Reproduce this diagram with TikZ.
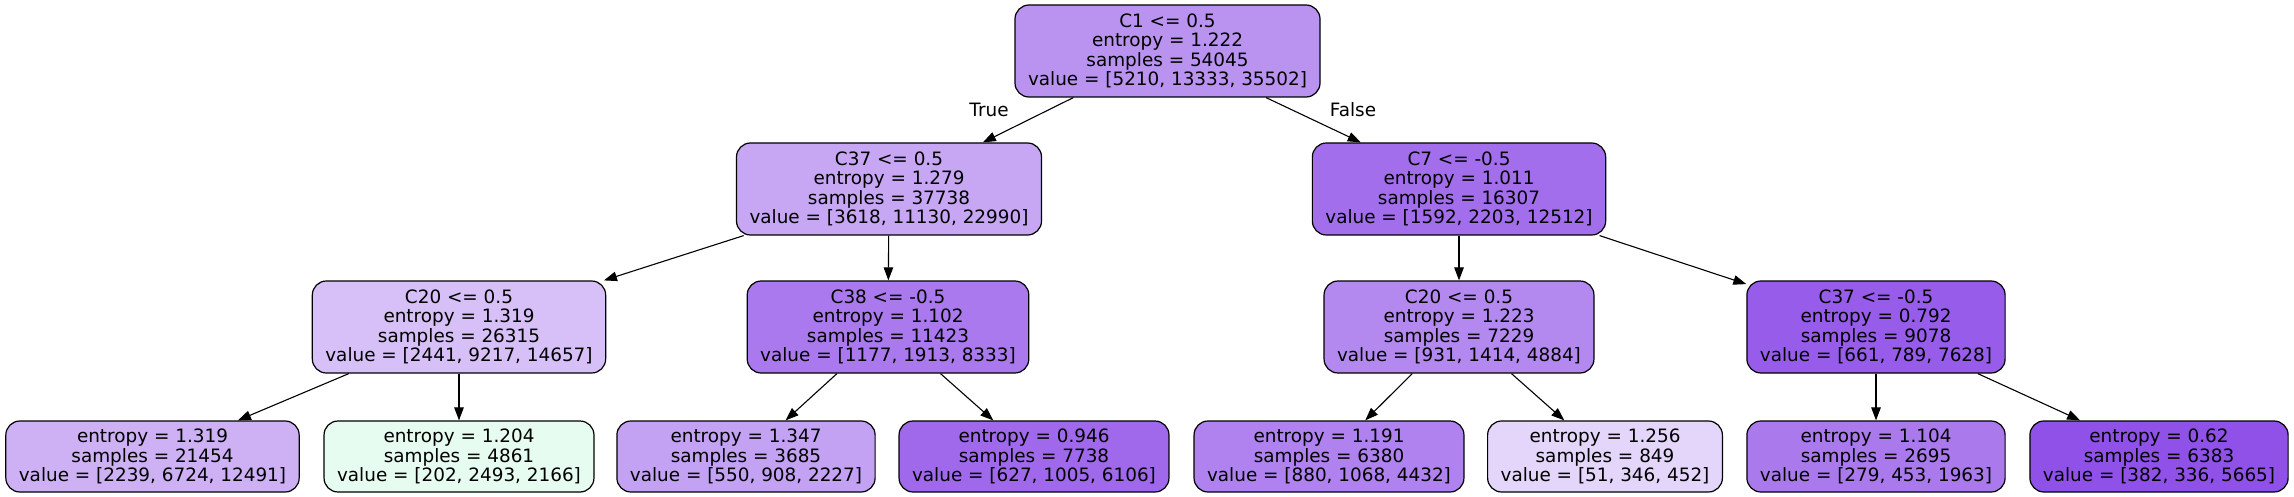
\documentclass[tikz,border=0pt]{standalone}
\usepackage{fontspec}
\setmainfont{DejaVu Sans}
\usetikzlibrary{arrows.meta}
\definecolor{cpur}{RGB}{129,57,229}
\definecolor{cgrn}{RGB}{57,229,129}
\begin{document}
\begin{tikzpicture}[x=1pt,y=-1pt,
  every node/.style={font=\fontsize{18.4}{19.5}\selectfont, align=center},
  tnode/.style={draw=black, line width=1.2pt, rounded corners=14pt, inner xsep=13pt, minimum height=92pt},
  leaf/.style={tnode, minimum height=71pt},
  edge/.style={line width=1.1pt, -{Triangle[length=13pt,width=9.5pt]}},
  lbl/.style={inner sep=0pt}]
\useasboundingbox (0,0) rectangle (2294,497);
\node[tnode, fill=cpur!54.45!white] (root) at (1167.5,51) {C1 <= 0.5\\entropy = 1.222\\samples = 54045\\value = [5210, 13333, 35502]};
\node[tnode, fill=cpur!44.57!white] (c37) at (889,189) {C37 <= 0.5\\entropy = 1.279\\samples = 37738\\value = [3618, 11130, 22990]};
\node[tnode, fill=cpur!73.09!white] (c7) at (1459,189) {C7 <= -0.5\\entropy = 1.011\\samples = 16307\\value = [1592, 2203, 12512]};
\node[tnode, fill=cpur!31.82!white] (c20a) at (459,327) {C20 <= 0.5\\entropy = 1.319\\samples = 26315\\value = [2441, 9217, 14657]};
\node[tnode, fill=cpur!67.51!white] (c38) at (888,327) {C38 <= -0.5\\entropy = 1.102\\samples = 11423\\value = [1177, 1913, 8333]};
\node[tnode, fill=cpur!59.67!white] (c20b) at (1459,327) {C20 <= 0.5\\entropy = 1.223\\samples = 7229\\value = [931, 1414, 4884]};
\node[tnode, fill=cpur!82.51!white] (c37b) at (1876,327) {C37 <= -0.5\\entropy = 0.792\\samples = 9078\\value = [661, 789, 7628]};
\node[leaf, fill=cpur!39.15!white] (l1) at (152.5,456.5) {entropy = 1.319\\samples = 21454\\value = [2239, 6724, 12491]};
\node[leaf, fill=cgrn!12.13!white] (l2) at (459,456.5) {entropy = 1.204\\samples = 4861\\value = [202, 2493, 2166]};
\node[leaf, fill=cpur!47.50!white] (l3) at (746,456.5) {entropy = 1.347\\samples = 3685\\value = [550, 908, 2227]};
\node[leaf, fill=cpur!75.76!white] (l4) at (1034,456.5) {entropy = 0.946\\samples = 7738\\value = [627, 1005, 6106]};
\node[leaf, fill=cpur!63.33!white] (l5) at (1329,456.5) {entropy = 1.191\\samples = 6380\\value = [880, 1068, 4432]};
\node[leaf, fill=cpur!21.07!white] (l6) at (1605,456.5) {entropy = 1.256\\samples = 849\\value = [51, 346, 452]};
\node[leaf, fill=cpur!67.35!white] (l7) at (1876,456.5) {entropy = 1.104\\samples = 2695\\value = [279, 453, 1963]};
\node[leaf, fill=cpur!88.04!white] (l8) at (2159,456.5) {entropy = 0.62\\samples = 6383\\value = [382, 336, 5665]};
\draw[edge] (root) -- (c37);
\draw[edge] (root) -- (c7);
\draw[edge] (c37) -- (c20a);
\draw[edge] (c37) -- (c38);
\draw[edge] (c7) -- (c20b);
\draw[edge] (c7) -- (c37b);
\draw[edge] (c20a) -- (l1);
\draw[edge] (c20a) -- (l2);
\draw[edge] (c38) -- (l3);
\draw[edge] (c38) -- (l4);
\draw[edge] (c20b) -- (l5);
\draw[edge] (c20b) -- (l6);
\draw[edge] (c37b) -- (l7);
\draw[edge] (c37b) -- (l8);
\node[lbl] (ltrue) at (989,110) {True};
\node[lbl] (lfalse) at (1353,110) {False};
\end{tikzpicture}
\end{document}
